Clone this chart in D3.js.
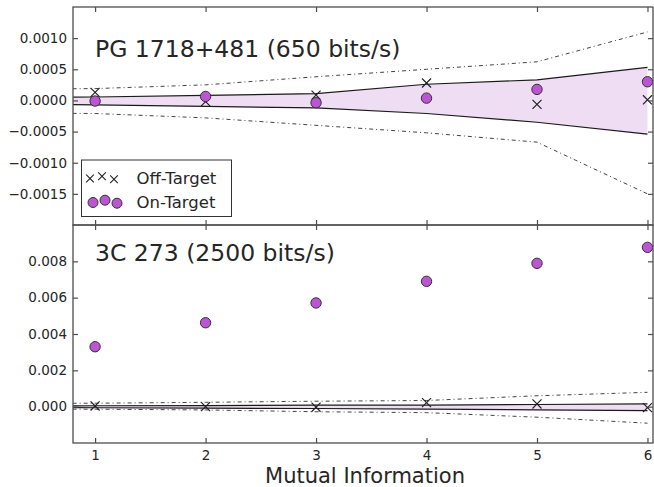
<!DOCTYPE html>
<html>
<head>
<meta charset="utf-8">
<script src="https://cdn.jsdelivr.net/npm/d3@7"></script>
<style>
  body { margin: 0; background: #fff; }
  svg { display: block; font-family: "DejaVu Sans", sans-serif; }
</style>
</head>
<body>
<svg id="chart" width="654" height="487"></svg>
<script>
// mutual information steps
var mi = [1, 2, 3, 4, 5, 6];
// x values used for the significance envelopes (start left of the axis, get clipped)
var envX = [0, 1, 2, 3, 4, 5, 6];

// PG 1718+481 (650 bits/s)
var pgOff = [1.3e-4, -0.2e-4, 0.85e-4, 2.8e-4, -0.64e-4, 0.1e-4];
var pgOn = [-0.1e-4, 0.64e-4, -0.37e-4, 0.37e-4, 1.77e-4, 3.0e-4];
var pgBandHi = [0.45e-4, 0.55e-4, 0.8e-4, 1.1e-4, 2.6e-4, 3.3e-4, 5.3e-4];
var pgBandLo = [-0.6e-4, -0.7e-4, -0.95e-4, -1.2e-4, -2.1e-4, -3.5e-4, -5.4e-4];
var pgDashHi = [1.8e-4, 1.9e-4, 2.5e-4, 3.8e-4, 5.0e-4, 6.2e-4, 11.0e-4];
var pgDashLo = [-2.0e-4, -2.1e-4, -2.8e-4, -4.0e-4, -5.2e-4, -6.7e-4, -15.0e-4];

// 3C 273 (2500 bits/s)
var qOff = [0.4e-4, 0.0, -0.3e-4, 2.2e-4, 1.5e-4, -0.5e-4];
var qOn = [3.30e-3, 4.62e-3, 5.71e-3, 6.90e-3, 7.89e-3, 8.77e-3];
var qBandHi = [0.4e-4, 0.5e-4, 0.6e-4, 0.8e-4, 0.9e-4, 1.2e-4, 1.5e-4];
var qBandLo = [-0.5e-4, -0.6e-4, -0.8e-4, -1.0e-4, -1.3e-4, -1.8e-4, -2.2e-4];
var qDashHi = [1.8e-4, 1.9e-4, 2.4e-4, 3.0e-4, 3.4e-4, 6.0e-4, 7.9e-4];
var qDashLo = [-1.3e-4, -1.4e-4, -1.8e-4, -2.8e-4, -3.3e-4, -5.8e-4, -9.1e-4];

var xTicks = [1, 2, 3, 4, 5, 6];
var pgTicks = [-0.0015, -0.0010, -0.0005, 0.0000, 0.0005, 0.0010];
var qTicks = [0.000, 0.002, 0.004, 0.006, 0.008];
var legendLabels = ["Off-Target", "On-Target"];

var ink = "#262626", spine = "#4d4d4d", orchid = "#bb55d3", bandFill = "#efddf4";

var svg = d3.select("#chart");
var left = 73, right = 653;
var x = d3.scaleLinear().domain([0.8, 6.05]).range([left, right]);

var panels = [
  { id: "pg", top: 7, bottom: 225, domain: [-0.002, 0.0015], ticks: pgTicks, fmt: d3.format(".4f"),
    off: pgOff, on: pgOn, hi: pgBandHi, lo: pgBandLo, dhi: pgDashHi, dlo: pgDashLo,
    title: "PG 1718+481 (650 bits/s)", titleY: 57, xLabels: false },
  { id: "q", top: 225, bottom: 443, domain: [-0.002, 0.010], ticks: qTicks, fmt: d3.format(".3f"),
    off: qOff, on: qOn, hi: qBandHi, lo: qBandLo, dhi: qDashHi, dlo: qDashLo,
    title: "3C 273 (2500 bits/s)", titleY: 261, xLabels: true }
];

panels.forEach(function(p) {
  var y = d3.scaleLinear().domain(p.domain).range([p.bottom, p.top]);
  p.y = y;

  svg.append("clipPath").attr("id", "clip-" + p.id)
    .append("rect").attr("x", left).attr("y", p.top)
    .attr("width", right - left).attr("height", p.bottom - p.top);

  var g = svg.append("g").attr("clip-path", "url(#clip-" + p.id + ")");

  var env = envX.map(function(v, i) { return { x: v, hi: p.hi[i], lo: p.lo[i], dhi: p.dhi[i], dlo: p.dlo[i] }; });

  g.append("path").datum(env)
    .attr("fill", bandFill)
    .attr("d", d3.area().x(function(d) { return x(d.x); })
      .y0(function(d) { return y(d.lo); }).y1(function(d) { return y(d.hi); }));

  ["hi", "lo"].forEach(function(k) {
    g.append("path").datum(env)
      .attr("fill", "none").attr("stroke", "#1a1a1a").attr("stroke-width", 1.2)
      .attr("d", d3.line().x(function(d) { return x(d.x); }).y(function(d) { return y(d[k]); }));
  });
  ["dhi", "dlo"].forEach(function(k) {
    g.append("path").datum(env)
      .attr("fill", "none").attr("stroke", "#444").attr("stroke-width", 1)
      .attr("stroke-dasharray", "4,3,1,3")
      .attr("d", d3.line().x(function(d) { return x(d.x); }).y(function(d) { return y(d[k]); }));
  });

  // off-target crosses
  var cross = d3.symbol().type(d3.symbolX).size(55);
  g.selectAll(".off").data(p.off).enter().append("path")
    .attr("d", cross)
    .attr("transform", function(d, i) { return "translate(" + x(mi[i]) + "," + y(d) + ")"; })
    .attr("fill", "none").attr("stroke", "#222").attr("stroke-width", 1.2);

  // on-target circles
  g.selectAll(".on").data(p.on).enter().append("circle")
    .attr("cx", function(d, i) { return x(mi[i]); })
    .attr("cy", function(d) { return y(d); })
    .attr("r", 5.2)
    .attr("fill", orchid).attr("stroke", "#333").attr("stroke-width", 1);

  // axes: ticks point inward on all sides
  var ax = svg.append("g").attr("color", spine);
  var yl = ax.append("g").attr("transform", "translate(" + left + ",0)")
    .call(d3.axisLeft(y).tickValues(p.ticks).tickFormat(p.fmt).tickSizeInner(-5).tickSizeOuter(0).tickPadding(6));
  var yr = ax.append("g").attr("transform", "translate(" + right + ",0)")
    .call(d3.axisRight(y).tickValues(p.ticks).tickFormat("").tickSizeInner(-5).tickSizeOuter(0));
  var xb = ax.append("g").attr("transform", "translate(0," + p.bottom + ")")
    .call(d3.axisBottom(x).tickValues(xTicks).tickFormat(p.xLabels ? d3.format("d") : "")
      .tickSizeInner(-5).tickSizeOuter(0).tickPadding(7));
  var xt = ax.append("g").attr("transform", "translate(0," + p.top + ")")
    .call(d3.axisTop(x).tickValues(xTicks).tickFormat("").tickSizeInner(-5).tickSizeOuter(0));
  [yl, yr, xb, xt].forEach(function(a) {
    a.select(".domain").remove();
    a.selectAll("line").attr("stroke-width", 1.2);
    a.selectAll("text").attr("fill", ink)
      .style("font-family", "DejaVu Sans").style("font-size", "13.5px");
  });

  svg.append("rect")
    .attr("x", left).attr("y", p.top)
    .attr("width", right - left).attr("height", p.bottom - p.top)
    .attr("fill", "none").attr("stroke", spine).attr("stroke-width", 1.3);

  svg.append("text")
    .attr("x", 95).attr("y", p.titleY)
    .attr("fill", ink).style("font-size", "23.5px")
    .text(p.title);
});

// legend (in the top panel)
var lg = svg.append("g");
lg.append("rect").attr("x", 81.5).attr("y", 160).attr("width", 150).attr("height", 56.5)
  .attr("fill", "#fff").attr("stroke", "#333").attr("stroke-width", 1);
var jitter = [0.5, -1.8, 1.2];
legendLabels.forEach(function(lbl, j) {
  var cy = 178 + j * 24;
  jitter.forEach(function(dy, k) {
    var cx = (j === 0 ? 90 : 93) + k * 12;
    if (j === 0) {
      lg.append("path").attr("d", d3.symbol().type(d3.symbolX).size(40))
        .attr("transform", "translate(" + cx + "," + (cy + dy) + ")")
        .attr("fill", "none").attr("stroke", "#222").attr("stroke-width", 1.1);
    } else {
      lg.append("circle").attr("cx", cx).attr("cy", cy + dy).attr("r", 5)
        .attr("fill", orchid).attr("stroke", "#333").attr("stroke-width", 1);
    }
  });
  lg.append("text").attr("x", 136.5).attr("y", cy + 5.5)
    .attr("fill", ink).style("font-size", "16.5px").text(lbl);
});

svg.append("text")
  .attr("x", (left + right) / 2 + 2).attr("y", 483)
  .attr("text-anchor", "middle")
  .attr("fill", ink).style("font-size", "21px")
  .text("Mutual Information");
</script>
</body>
</html>
